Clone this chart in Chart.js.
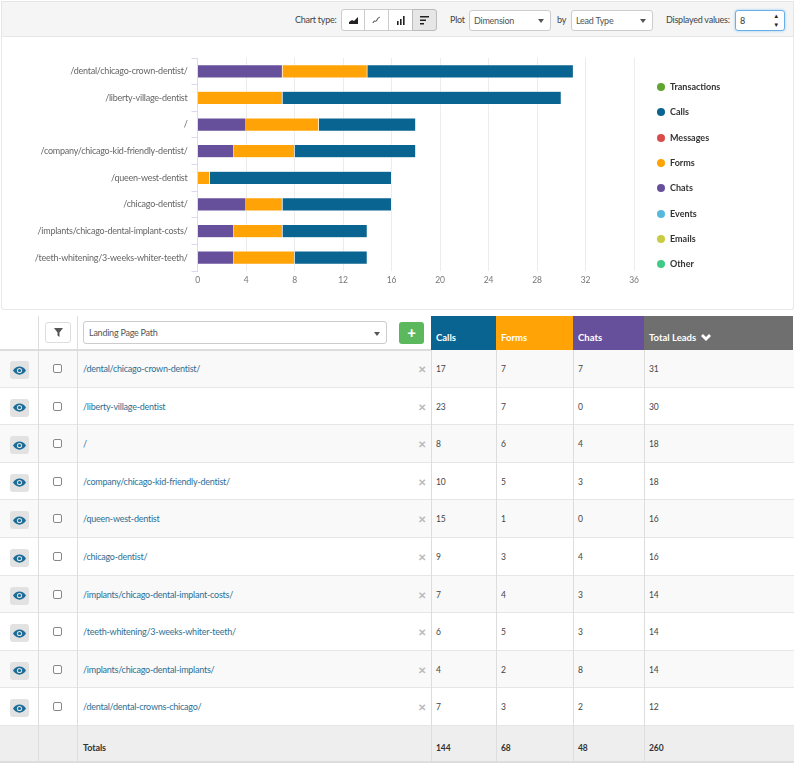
<!DOCTYPE html>
<html>
<head>
<meta charset="utf-8">
<script src="https://cdn.jsdelivr.net/npm/chart.js@4"></script>
<style>
  * { box-sizing: border-box; }
  html, body { margin: 0; padding: 0; background: #fff; overflow: hidden; }
  body { width: 794px; height: 763px; position: relative; font-family: Lato, sans-serif; font-size: 10px; color: #555; }
  .abs { position: absolute; }
  #topbar { left: 1px; top: 1px; width: 793px; height: 36px; background: #f5f5f5; border: 1px solid #e6e6e6; }
  #panel { left: 1px; top: 37px; width: 793px; height: 273px; border: 1px solid #e8e8e8; border-top: 0; border-radius: 0 0 3px 3px; }
  #chart { position: absolute; left: 0; top: 38px; }
  .lbl { font-size: 9px; letter-spacing: -0.24px; color: #444; line-height: 14px; white-space: nowrap; }
  .btn { background: #fff; border: 1px solid #ccc; height: 22px; display: flex; align-items: center; justify-content: center; }
  .sel { background: #fff; border: 1px solid #ccc; border-radius: 3px; height: 21px; font-size: 9px; letter-spacing: -0.24px; color: #555; line-height: 19px; padding-left: 4px; }
  .sel i { position: absolute; right: 6px; top: 8px; border-left: 3px solid transparent; border-right: 3px solid transparent; border-top: 4px solid #555; }
  .leg { left: 657px; font-weight: 700; font-size: 9px; color: #333; line-height: 12px; white-space: nowrap; }
  .leg b { display: inline-block; width: 8px; height: 8px; border-radius: 50%; margin-right: 5px; vertical-align: -1px; }
  .vline { width: 1px; background: #ddd; }
  .hline { height: 1px; left: 0; width: 794px; background: #e6e6e6; }
  .row { left: 0; width: 794px; }
  .cell { line-height: 14px; font-size: 8.5px; letter-spacing: -0.1px; color: #444; white-space: nowrap; }
  .link { color: #2f6f94; font-size: 9px; letter-spacing: -0.24px; }
  .x { left: 418px; color: #bbb; font-size: 10px; font-weight: 700; }
  .eye { left: 10px; width: 19px; height: 18px; background: #e2e2e2; border-radius: 3px; display: flex; align-items: center; justify-content: center; }
  .chk { left: 53px; width: 9px; height: 9px; border: 1px solid #888; border-radius: 2px; background: #fff; }
  .th { top: 316px; height: 34px; color: #fff; font-weight: 700; font-size: 9.5px; padding: 16px 0 0 5px; white-space: nowrap; }
</style>
</head>
<body>
<div id="topbar" class="abs"></div>
<div id="panel" class="abs"></div>

<div class="abs lbl" style="left:295px;top:13px">Chart type:</div>
<div class="abs btn" style="left:341px;top:9px;width:24px;border-radius:3px 0 0 3px"><svg width="9" height="8"><path d="M0 8V6L3 4 5 5 9 1V8Z" fill="#222"/></svg></div>
<div class="abs btn" style="left:364px;top:9px;width:25px"><svg width="9" height="9"><path d="M1 7C2 3 4 7 5 4S7 2 8 1" fill="none" stroke="#333"/></svg></div>
<div class="abs btn" style="left:388px;top:9px;width:25px"><svg width="9" height="9"><path d="M1 5h1.6v4H1zM4 3h1.6v6H4zM7 0h1.600v9H7z" fill="#222"/></svg></div>
<div class="abs btn" style="left:412px;top:9px;width:25px;border-radius:0 3px 3px 0;background:#e6e6e6;border-color:#bbb"><svg width="9" height="9"><path d="M0 0h9v1.6H0zM0 3.5h6v1.6H0zM0 7h4v1.6H0z" fill="#222"/></svg></div>
<div class="abs lbl" style="left:450px;top:13px">Plot</div>
<div class="abs sel" style="left:469px;top:10px;width:82px">Dimension<i></i></div>
<div class="abs lbl" style="left:557px;top:13px">by</div>
<div class="abs sel" style="left:571px;top:10px;width:82px">Lead Type<i></i></div>
<div class="abs lbl" style="left:666px;top:13px">Displayed values:</div>
<div class="abs sel" style="left:735px;top:10px;width:50px;border-color:#66afe9;box-shadow:0 0 3px #9fd0f2;color:#333">8
  <span class="abs" style="right:5px;top:0;font-size:6px;line-height:9px;color:#222">&#9650;<br>&#9660;</span></div>

<canvas id="chart" width="680" height="270"></canvas>
<div id="legend"></div>
<div id="grid"></div>

<script>
const paths = [
  "/dental/chicago-crown-dentist/",
  "/liberty-village-dentist",
  "/",
  "/company/chicago-kid-friendly-dentist/",
  "/queen-west-dentist",
  "/chicago-dentist/",
  "/implants/chicago-dental-implant-costs/",
  "/teeth-whitening/3-weeks-whiter-teeth/",
  "/implants/chicago-dental-implants/",
  "/dental/dental-crowns-chicago/"
];
const calls = [17, 23, 8, 10, 15, 9, 7, 6, 4, 7];
const forms = [7, 7, 6, 5, 1, 3, 4, 5, 2, 3];
const chats = [7, 0, 4, 3, 0, 4, 3, 3, 8, 2];
const totals = [31, 30, 18, 18, 16, 16, 14, 14, 14, 12];
const grandTotals = [144, 68, 48, 260];
const displayed = 8;

const legendNames = ["Transactions", "Calls", "Messages", "Forms", "Chats", "Events", "Emails", "Other"];
const legendColors = ["#5fa52e", "#0a6491", "#dc4b4b", "#ffa307", "#67509b", "#56b9dc", "#c9cb42", "#41ca85"];

const color = name => legendColors[legendNames.indexOf(name)];

// Lato runs wider than the font in the picture, tighten the axis labels a bit
const tightText = {
  id: "tightText",
  beforeDraw: chart => { chart.ctx.letterSpacing = "-0.24px"; }
};

new Chart(document.getElementById("chart"), {
  type: "bar",
  plugins: [tightText],
  data: {
    labels: paths.slice(0, displayed),
    datasets: [
      { label: "Chats", data: chats.slice(0, displayed), backgroundColor: color("Chats") },
      { label: "Forms", data: forms.slice(0, displayed), backgroundColor: color("Forms") },
      { label: "Calls", data: calls.slice(0, displayed), backgroundColor: color("Calls") }
    ]
  },
  options: {
    indexAxis: "y",
    responsive: false,
    animation: false,
    layout: { padding: { top: 20, right: 46, bottom: 0, left: 0 } },
    datasets: { bar: { barPercentage: 0.5, categoryPercentage: 1, borderColor: "#fff", borderWidth: 0.5 } },
    plugins: { legend: { display: false }, tooltip: { enabled: false } },
    scales: {
      x: {
        stacked: true,
        min: 0,
        max: 36,
        ticks: { stepSize: 4, color: "#777", font: { family: "Lato", size: 8.5 }, padding: 4 },
        grid: { color: "#ececec", drawTicks: false, tickLength: 5 },
        border: { display: false },
        afterFit: s => { s.height = 37; }
      },
      y: {
        stacked: true,
        ticks: { color: "#666", font: { family: "Lato", size: 9 }, padding: 4 },
        grid: { drawOnChartArea: false, color: "#d5dcec", tickLength: 6 },
        border: { color: "#d5dcec" },
        afterFit: s => { s.width = 197.5; }
      }
    }
  }
});

// legend
document.getElementById("legend").innerHTML = legendNames.map((n, i) =>
  `<div class="abs leg" style="top:${81 + i * 25.3}px"><b style="background:${legendColors[i]}"></b>${n}</div>`
).join("");

// table
const rowTop = 350, rowH = 37.6;
const colX = [38, 77, 431, 496, 573, 644];
const eye = '<svg width="13" height="9" viewBox="0 0 13 9"><path d="M0 4.5C3 -1 10 -1 13 4.5 10 10 3 10 0 4.5Z" fill="#1b6c99"/><circle cx="6.5" cy="4.5" r="2.6" fill="#e2e2e2"/><circle cx="6.5" cy="4.5" r="1.6" fill="#1b6c99"/></svg>';
let html = "";
paths.forEach((p, i) => {
  const y = rowTop + i * rowH;
  html += `<div class="abs row" style="top:${y}px;height:${rowH}px;background:${i % 2 ? "#fff" : "#f9f9f9"}"></div>`;
  html += `<div class="abs eye" style="top:${y + 11}px">${eye}</div>`;
  html += `<div class="abs chk" style="top:${y + 14}px"></div>`;
  html += `<div class="abs cell link" style="left:83px;top:${y + 12}px">${p}</div>`;
  html += `<div class="abs cell x" style="top:${y + 12}px">&#10005;</div>`;
  [calls[i], forms[i], chats[i], totals[i]].forEach((v, c) => {
    html += `<div class="abs cell" style="left:${colX[2 + c] + 5}px;top:${y + 12}px">${v}</div>`;
  });
  html += `<div class="abs hline" style="top:${y + rowH - 1}px"></div>`;
});
const totTop = rowTop + paths.length * rowH;
html += `<div class="abs row" style="top:${totTop}px;height:${763 - totTop - 1}px;background:#eee"></div>`;
html += `<div class="abs cell" style="left:83px;top:${totTop + 15}px;font-weight:700;color:#333;font-size:9px">Totals</div>`;
grandTotals.forEach((v, c) => {
  html += `<div class="abs cell" style="left:${colX[2 + c] + 5}px;top:${totTop + 15}px;font-weight:700;color:#333">${v}</div>`;
});
colX.forEach(x => { html += `<div class="abs vline" style="left:${x}px;top:${x < 431 ? 316 : 350}px;height:${x < 431 ? 446 : 412}px"></div>`; });
html += `<div class="abs" style="left:0;top:349px;width:431px;height:2px;background:#ddd"></div>`;
html += `<div class="abs" style="left:0;top:761px;width:794px;height:2px;background:#ddd"></div>`;

// header row of the table
html += `<div class="abs th" style="left:431px;width:65px;background:#0a6491">Calls</div>`;
html += `<div class="abs th" style="left:496px;width:77px;background:#ffa307">Forms</div>`;
html += `<div class="abs th" style="left:573px;width:71px;background:#67509b">Chats</div>`;
html += `<div class="abs th" style="left:644px;width:149px;background:#6f6f6f">Total Leads <svg width="10" height="7" viewBox="0 0 10 7" style="margin-left:3px"><path d="M0 2 2 0 5 3 8 0 10 2 5 7Z" fill="#fff"/></svg></div>`;
html += `<div class="abs btn" style="left:45px;top:322px;width:26px;height:21px;border-radius:3px;border-color:#ddd"><svg width="9" height="9"><path d="M0 0h9L5.5 4.500V9L3.500 7.500V4.500Z" fill="#555"/></svg></div>`;
html += `<div class="abs sel" style="left:83px;top:321px;width:304px;height:23px;line-height:21px;padding-left:5px">Landing Page Path<i style="top:10px"></i></div>`;
html += `<div class="abs" style="left:399px;top:322px;width:25px;height:22px;background:#5cb85c;border-radius:3px;color:#fff;font-weight:900;font-size:15px;line-height:21px;text-align:center">+</div>`;
document.getElementById("grid").innerHTML = html;
</script>
</body>
</html>
